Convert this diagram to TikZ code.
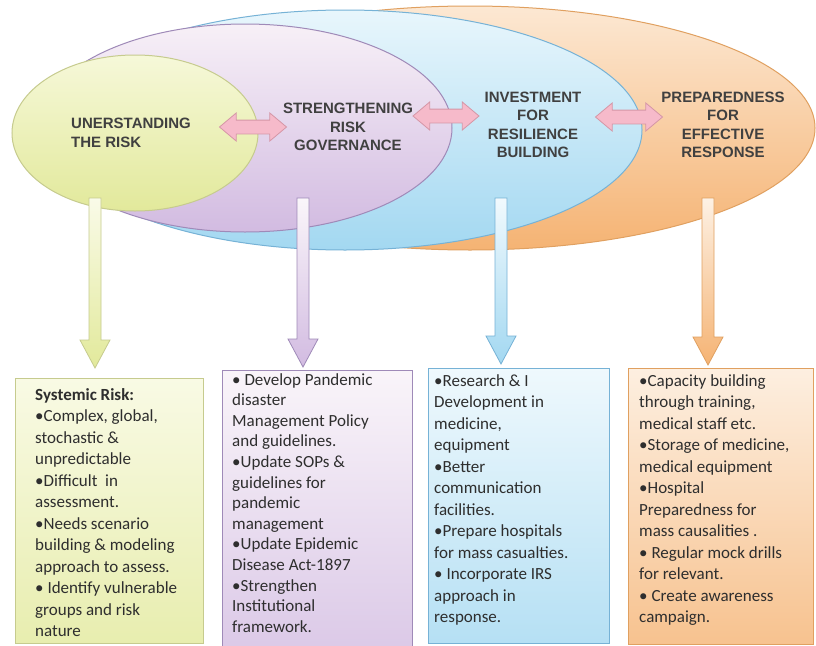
\documentclass[tikz,border=0pt]{standalone}
\usepackage{fontspec}
\setmainfont{Carlito}
\newfontfamily\headfont{Liberation Sans}
\usepackage{tikz}
\usetikzlibrary{calc,positioning,shapes.geometric,shapes.arrows}
\definecolor{topyel}{HTML}{F6F8D9}
\definecolor{headyel}{HTML}{E2E99B}
\definecolor{lineyel}{HTML}{C6CB8E}
\definecolor{toppur}{HTML}{F7F0F7}
\definecolor{headpur}{HTML}{D2BBE1}
\definecolor{linepur}{HTML}{9F8AB8}
\definecolor{topblu}{HTML}{E8F6FC}
\definecolor{headblu}{HTML}{A3D8F1}
\definecolor{lineblu}{HTML}{76B2D6}
\definecolor{topora}{HTML}{FCE8D3}
\definecolor{headora}{HTML}{F5B373}
\definecolor{lineora}{HTML}{E0A060}
\definecolor{linkpink}{HTML}{F6BACA}
\definecolor{linkedge}{HTML}{D596A6}
\definecolor{inktext}{HTML}{2E2E2E}

\begin{document}
\begin{tikzpicture}[x=1pt,y=-1pt,
  oval/.style={ellipse,draw=line#1,line width=1pt,top color=top#1,bottom color=head#1,inner sep=0pt},
  panel/.style={rectangle,draw=line#1,line width=0.8pt,top color=top#1!70,bottom color=head#1!80,anchor=north west,inner sep=0pt},
  pipe/.style={draw=line#1,line width=0.8pt,top color=top#1!60,bottom color=head#1},
  link/.style={double arrow,draw=linkedge,fill=linkpink,line width=0.8pt,minimum width=28,double arrow tip angle=80,inner xsep=0pt,inner ysep=6.5pt},
  head/.style={font=\headfont\bfseries\fontsize{15}{18.5}\selectfont,text=black!75,align=center,inner sep=0pt},
  notes/.style={font=\fontsize{17}{21.5}\selectfont,text=inktext,align=left,anchor=north west,inner sep=0pt}]
  \path[use as bounding box,fill=white] (0,0) rectangle (816,645);

  \node[oval=ora,minimum width=690,minimum height=244] (ellP) at (470,128) {};
  \node[oval=blu,minimum width=594,minimum height=240] (ellI) at (345,130) {};
  \node[oval=pur,minimum width=414,minimum height=208] (ellS) at (245,128) {};
  \node[oval=yel,minimum width=246,minimum height=156] (ellU) at (135,133) {};

  \node[head,align=left,anchor=west] (hU) at (71,133) {UNERSTANDING\\THE RISK};
  \node[head] (hS) at (348,127) {STRENGTHENING\\RISK\\GOVERNANCE};
  \node[head] (hI) at (533,125) {INVESTMENT\\FOR\\RESILIENCE\\BUILDING};
  \node[head] (hP) at (723,125) {PREPAREDNESS\\FOR\\EFFECTIVE\\RESPONSE};

  \node[link,minimum height=67] (l1) at (253,127) {};
  \node[link,minimum height=66] (l2) at (446,116) {};
  \node[link,minimum height=67] (l3) at (629,117) {};

  \node[panel=yel,minimum width=188,minimum height=265] (boxU) at (15,378) {};
  \node[panel=pur,minimum width=190,minimum height=282] (boxS) at (222,370) {};
  \node[panel=blu,minimum width=181,minimum height=275] (boxI) at (428,368) {};
  \node[panel=ora,minimum width=185,minimum height=276] (boxP) at (628,368) {};

  \coordinate (sU) at (95,198);
  \coordinate (sS) at (303,198);
  \coordinate (sI) at (501,198);
  \coordinate (sP) at (708,198);
  \foreach \s/\b/\c/\g in {sU/boxU/yel/10,sS/boxS/pur/3,sI/boxI/blu/4,sP/boxP/ora/3}
    \draw[pipe=\c] let \p1=(\s), \p2=($(\s |- \b.north)+(0,-\g)$) in
      (\x1-6pt,\y1) -- (\x1-6pt,\y2+28pt) -- (\x1-15pt,\y2+28pt) -- (\x1,\y2)
      -- (\x1+15pt,\y2+28pt) -- (\x1+6pt,\y2+28pt) -- (\x1+6pt,\y1) -- cycle;

  \node[notes] (nU) at ($(boxU.north west)+(20,10)$) {\textbf{Systemic Risk:}\\•Complex, global,\\stochastic \&\\unpredictable\\•Difficult\ \ in\\assessment.\\•Needs scenario\\building \& modeling\\approach to assess.\\• Identify vulnerable\\groups and risk\\nature};
  \node[notes,font=\fontsize{17}{20.6}\selectfont] (nS) at ($(boxS.north west)+(10,3)$) {• Develop Pandemic\\disaster\\Management Policy\\and guidelines.\\•Update SOPs \&\\guidelines for\\pandemic\\management\\•Update Epidemic\\Disease Act-1897\\•Strengthen\\Institutional\\framework.};
  \node[notes] (nI) at ($(boxI.north west)+(6,6)$) {•Research \& I\\Development in\\medicine,\\equipment\\•Better\\communication\\facilities.\\•Prepare hospitals\\for mass casualties.\\• Incorporate IRS\\approach in\\response.};
  \node[notes] (nP) at ($(boxP.north west)+(11,6)$) {•Capacity building\\through training,\\medical staff etc.\\•Storage of medicine,\\medical equipment\\•Hospital\\Preparedness for\\mass causalities .\\• Regular mock drills\\for relevant.\\• Create awareness\\campaign.};
\end{tikzpicture}
\end{document}
